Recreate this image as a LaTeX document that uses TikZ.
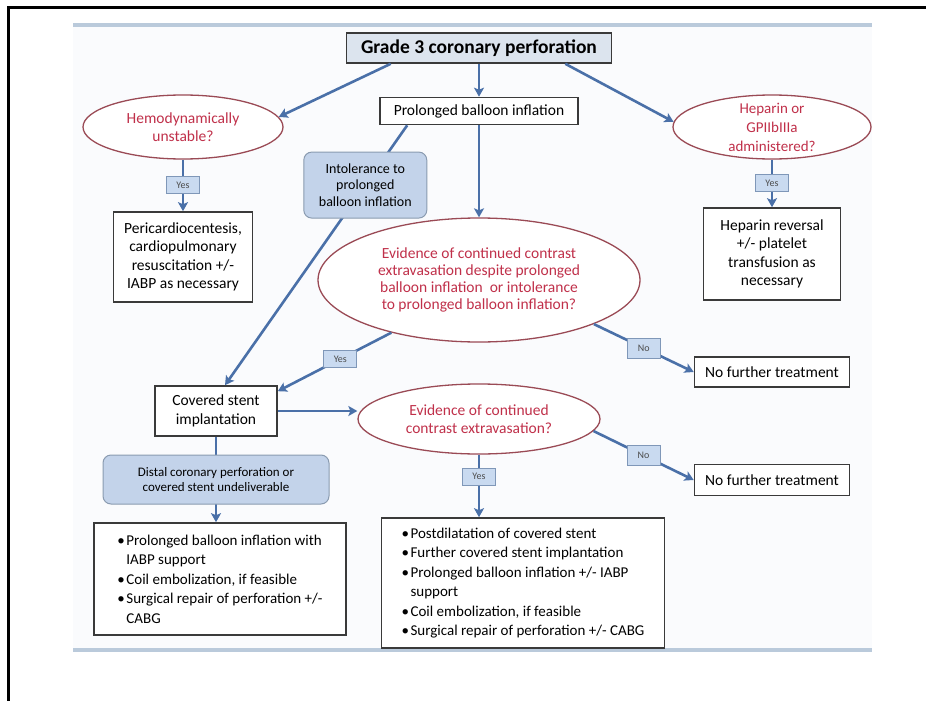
\documentclass[tikz,border=0pt]{standalone}
\usepackage{fontspec}
\setmainfont{Carlito}
\usetikzlibrary{positioning,arrows.meta,calc,shapes.geometric}
\definecolor{cArrow}{HTML}{4A70A8}
\definecolor{cQBorder}{HTML}{9A4A55}
\definecolor{cQText}{HTML}{C0304A}
\definecolor{cBox}{HTML}{3A3A3A}
\definecolor{cTag}{HTML}{C9DAF0}
\definecolor{cTagBorder}{HTML}{7F97B8}
\definecolor{cNote}{HTML}{C3D3EA}
\definecolor{cNoteBorder}{HTML}{8A9BB0}
\definecolor{cTitle}{HTML}{DCE4EE}
\definecolor{cPanel}{HTML}{FAFBFD}
\definecolor{cPanelEdge}{HTML}{BACADB}
\newcommand{\bul}{\makebox[9pt][l]{\textbullet}}
\newcommand{\ind}{\hspace*{9pt}}
\tikzset{
  stepBox/.style={draw=cBox, fill=white, line width=1.6pt, align=center,
                  inner sep=0pt, font=\fontsize{15.5}{18.5}\selectfont},
  listBox/.style={stepBox, align=left, inner xsep=6pt},
  question/.style={ellipse, draw=cQBorder, line width=1.3pt, fill=white,
                   text=cQText, align=center, inner sep=0pt,
                   font=\fontsize{15.5}{18.5}\selectfont},
  tag/.style={draw=cTagBorder, fill=cTag, line width=1pt, text=black!70,
              font=\fontsize{10}{11}\selectfont, minimum width=33pt,
              minimum height=17pt, inner sep=0pt},
  note/.style={draw=cNoteBorder, fill=cNote, rounded corners=8pt, line width=1pt,
               align=center, inner sep=0pt, font=\fontsize{14}{16.5}\selectfont},
  flow/.style={-{Stealth[length=9pt,width=10pt,inset=2pt]}, line width=2.6pt, draw=cArrow},
}
\begin{document}
\begin{tikzpicture}[x=1pt,y=-1pt]
\useasboundingbox (0,0) rectangle (926,701);

% frame and panel
\draw[line width=3pt] (8,701) -- (8,8) -- (926,8);
\fill[cPanel] (73,24) rectangle (872,651);
\draw[cPanelEdge, line width=4pt] (73,25) -- (872,25);
\draw[cPanelEdge, line width=4pt] (73,650) -- (872,650);

% ========== TOP ROW ==========
\node[stepBox, fill=cTitle, minimum width=265pt, minimum height=30pt,
      font=\bfseries\fontsize{19.5}{22}\selectfont] (title) at (479,48)
  {Grade 3 coronary perforation};
\node[stepBox, minimum width=198pt, minimum height=27pt] (prolong) at (479,111)
  {Prolonged balloon inflation};
\node[question, minimum width=200pt, minimum height=64pt] (hemo) at (183,127)
  {Hemodynamically\\unstable?};
\node[question, minimum width=198pt, minimum height=64pt, inner ysep=-9pt,
      font=\fontsize{15}{19}\selectfont] (hep) at (772,127)
  {Heparin or\\GPIIbIIIa\\administered?};

\node[stepBox, minimum width=139pt, minimum height=90pt] (pericard) at (183,257)
  {Pericardiocentesis,\\cardiopulmonary\\resuscitation +/-\\IABP as necessary};
\node[stepBox, minimum width=137pt, minimum height=92pt] (hepRev) at (772,254)
  {Heparin reversal\\+/- platelet\\transfusion as\\necessary};

% ========== MIDDLE ==========
\node[question, minimum width=322pt, minimum height=124pt,
      font=\fontsize{15.5}{17}\selectfont] (bigQ) at (479,280)
  {Evidence of continued contrast\\extravasation despite prolonged\\
   balloon inflation\ \ or intolerance\\to prolonged balloon inflation?};
\node[stepBox, minimum width=122pt, minimum height=50pt] (cstent) at (216,411)
  {Covered stent\\implantation};
\node[question, minimum width=242pt, minimum height=70pt] (ev2) at (479,419)
  {Evidence of continued\\contrast extravasation?};
\node[stepBox, minimum width=155pt, minimum height=30pt] (noTr1) at (772,372)
  {No further treatment};
\node[stepBox, minimum width=155pt, minimum height=31pt] (noTr2) at (772,480)
  {No further treatment};

% ========== BOTTOM LISTS ==========
\node[listBox, minimum width=252pt, minimum height=112pt,
      font=\fontsize{15}{19.5}\selectfont] (leftList) at (220,579)
  {\bul Prolonged balloon inflation with\\\ind IABP support\\
   \bul Coil embolization, if feasible\\\bul Surgical repair of perforation +/-\\
   \ind CABG};
\node[listBox, minimum width=283pt, minimum height=130pt,
      font=\fontsize{15}{19.5}\selectfont] (rightList) at (523,583)
  {\bul Postdilatation of covered stent\\\bul Further covered stent implantation\\
   \bul Prolonged balloon inflation +/- IABP\\\ind support\\
   \bul Coil embolization, if feasible\\\bul Surgical repair of perforation +/- CABG};

% ========== CONNECTORS ==========
\draw[flow] ($(title.south west)+(45,0)$) -- (hemo.6);
\draw[flow] (title.south) -- (prolong.north);
\draw[flow] ($(title.south east)+(-47,0)$) -- (hep.177);
\draw[flow] (hemo.south) -- node[tag] {Yes} (pericard.north);
\draw[flow] (hep.south) -- node[tag] {Yes} (hepRev.north);
\draw[flow] ($(prolong.south west)+(28,0)$) --
  node[note, pos=0.23, minimum width=123pt, minimum height=66pt] (intol)
    {Intolerance to\\prolonged\\balloon inflation}
  ($(cstent.north)+(9,0)$);
\draw[flow] (prolong.south) -- (bigQ.north);
\draw[flow] (bigQ.211) -- node[tag, pos=0.45] {Yes} ($(cstent.north east)+(0,6)$);
\draw[flow] (bigQ.339) -- node[tag, minimum height=20pt] {No} (noTr1.west);
\draw[flow] (cstent.east) -- (cstent.east -| ev2.west);
\draw[flow] (ev2.354) -- node[tag, minimum height=20pt] {No} (noTr2.west);
\draw[flow] (ev2.south) -- node[tag, pos=0.35] {Yes} (ev2.south |- rightList.north);
\draw[flow] (cstent.south) --
  node[note, minimum width=226pt, minimum height=49pt,
       font=\fontsize{13}{15.5}\selectfont] (distal)
    {Distal coronary perforation or\\covered stent undeliverable}
  (cstent.south |- leftList.north);

\end{tikzpicture}
\end{document}
